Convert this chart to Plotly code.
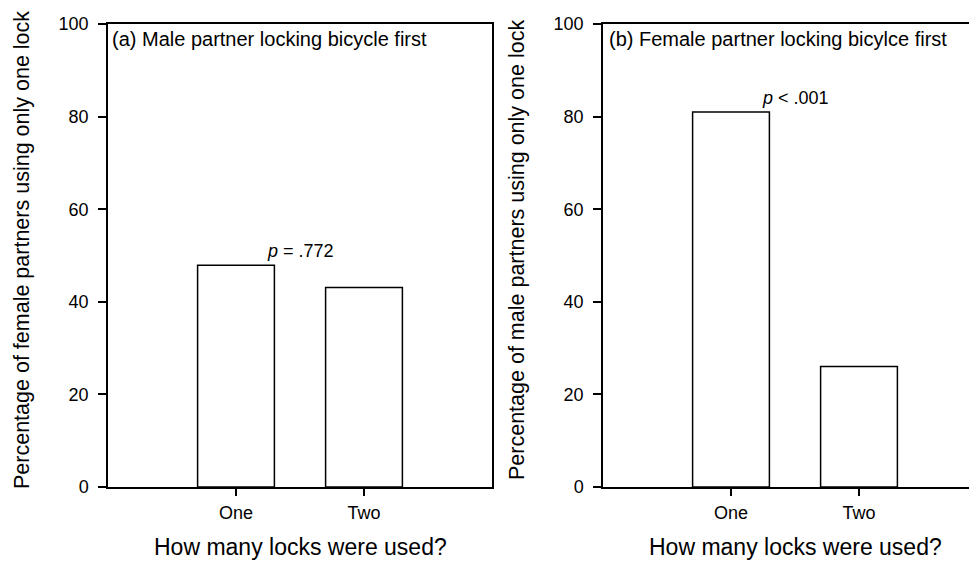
import plotly.graph_objects as go

categories = ["One", "Two"]
male_first_values = [47.9, 43.1]      # panel (a): female partners using only one lock
female_first_values = [81.0, 26.0]    # panel (b): male partners using only one lock
y_ticks = [0, 20, 40, 60, 80, 100]
panel_titles = ["(a) Male partner locking bicycle first",
                "(b) Female partner locking bicylce first"]
p_texts = ["<i>p</i> = .772", "<i>p</i> < .001"]
y_titles = ["Percentage of female partners using only one lock",
            "Percentage of male partners using only one lock"]
x_title = "How many locks were used?"

# the page body has an 8px default margin, so the figure is drawn 8px smaller
OFF = 8
W, H = 977 - OFF, 563 - OFF
TOP, BOT = 24 - OFF, 487 - OFF
FONT = "Liberation Sans, Arial, sans-serif"
BLACK = "#000000"

fig = go.Figure()
for i, vals in enumerate([male_first_values, female_first_values]):
    fig.add_trace(go.Bar(
        x=categories, y=vals, width=0.6,
        marker=dict(color="white", line=dict(color=BLACK, width=1.5)),
        xaxis="x" if i == 0 else "x2", yaxis="y" if i == 0 else "y2",
        showlegend=False, hoverinfo="x+y"))

def px(x):
    return (x - OFF) / W

def py(y):
    return (BOT - (y - OFF)) / (BOT - TOP)

common_x = dict(type="category", showline=True, linecolor=BLACK, linewidth=1.5,
                ticks="outside", ticklen=7, tickcolor=BLACK, tickwidth=1.5,
                tickfont=dict(family=FONT, size=18, color=BLACK),
                showgrid=False, zeroline=False, ticklabelstandoff=2,
                mirror=True, fixedrange=True)
common_y = dict(range=[0, 100], tickvals=y_ticks, showline=True, linecolor=BLACK,
                linewidth=1.5, ticks="outside", ticklen=8, tickcolor=BLACK,
                tickwidth=1.5, tickfont=dict(family=FONT, size=18, color=BLACK),
                showgrid=False, zeroline=False, ticklabelstandoff=6, fixedrange=True)

right_px = 977  # visible edge of the right panel
fig.update_layout(
    width=W, height=H,
    margin=dict(l=0, r=0, t=TOP, b=H - BOT),
    paper_bgcolor="white", plot_bgcolor="white",
    xaxis=dict(common_x, domain=[px(108), px(492)], range=[-1, 2], anchor="y"),
    yaxis=dict(common_y, domain=[0, 1], anchor="x", mirror=True),
    xaxis2=dict(common_x, domain=[px(603), 1.0],
                range=[-1, (right_px - 603) / 128 - 1], anchor="y2"),
    yaxis2=dict(common_y, domain=[0, 1], anchor="x2", mirror=False),
)

annotations = []
for x0, txt in zip([110, 607], panel_titles):
    annotations.append(dict(text=txt, xref="paper", yref="paper", x=px(x0), y=py(39),
                            xanchor="left", yanchor="middle", showarrow=False,
                            font=dict(family=FONT, size=20, color=BLACK)))
for xr, yr, txt, ybar in zip(["x", "x2"], ["y", "y2"], p_texts,
                             [male_first_values[0], female_first_values[0]]):
    annotations.append(dict(text=txt, xref=xr, yref=yr, x=0.5, y=ybar, yshift=2,
                            xanchor="center", yanchor="bottom", showarrow=False,
                            font=dict(family=FONT, size=18, color=BLACK)))
for xc, txt in zip([22, 517], y_titles):
    annotations.append(dict(text=txt, xref="paper", yref="paper", x=px(xc), y=py(250),
                            xanchor="center", yanchor="middle", textangle=-90, showarrow=False,
                            font=dict(family=FONT, size=21.5, color=BLACK)))
for xc in [300, 795]:
    annotations.append(dict(text=x_title, xref="paper", yref="paper", x=px(xc), y=py(547),
                            xanchor="center", yanchor="middle", showarrow=False,
                            font=dict(family=FONT, size=23, color=BLACK)))
fig.update_layout(annotations=annotations)

fig.write_html("out.html")
